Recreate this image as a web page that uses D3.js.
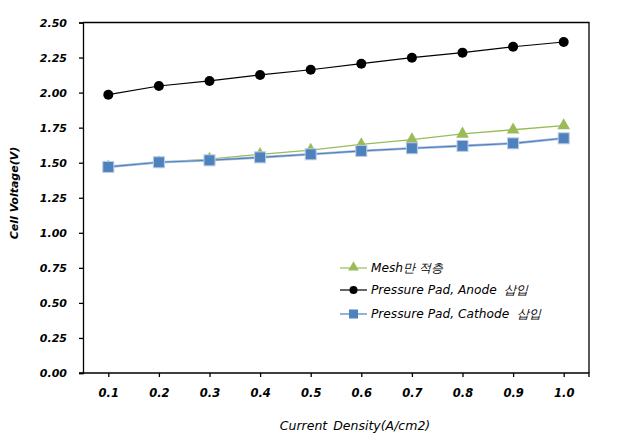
<!DOCTYPE html>
<html><head><meta charset="utf-8">
<script src="https://cdn.jsdelivr.net/npm/d3@7/dist/d3.min.js"></script>
<style>
html,body{margin:0;padding:0;background:#fff;}
svg{display:block;}
</style></head>
<body>
<svg id="chart" width="618" height="440"></svg>
<script>
const categories = ["0.1","0.2","0.3","0.4","0.5","0.6","0.7","0.8","0.9","1.0"];
const meshValues = [1.47, 1.50, 1.525, 1.56, 1.59, 1.63, 1.665, 1.705, 1.735, 1.765];
const anodeValues = [1.985, 2.047, 2.083, 2.126, 2.163, 2.206, 2.249, 2.285, 2.327, 2.361];
const cathodeValues = [1.47, 1.503, 1.517, 1.538, 1.56, 1.584, 1.603, 1.62, 1.638, 1.674];
const yTicks = [0, 0.25, 0.5, 0.75, 1.0, 1.25, 1.5, 1.75, 2.0, 2.25, 2.5];
const seriesNames = ["Mesh만 적층", "Pressure Pad, Anode  삽입", "Pressure Pad, Cathode  삽입"];

const svg = d3.select("#chart");
const L = 83, R = 589, T = 22.5, B = 373;
const x = d3.scalePoint().domain(categories).range([L, R]).padding(0.5);
const y = d3.scaleLinear().domain([0, 2.5]).range([B, T]);

const tickFont = "'DejaVu Sans', Verdana, sans-serif";

// plot frame top/right
svg.append("path").attr("d", `M${L},${T}H${R}V${B}`).attr("fill","none").attr("stroke","#000").attr("stroke-width",1.3);

// y axis
const yAxis = svg.append("g").attr("transform", `translate(${L},0)`)
  .call(d3.axisLeft(y).tickValues(yTicks).tickFormat(d3.format(".2f")).tickSize(4).tickPadding(12));
yAxis.select(".domain").attr("stroke","#000").attr("stroke-width",1.3);
yAxis.selectAll(".tick line").attr("stroke","#000").attr("stroke-width",1.3);
yAxis.selectAll(".tick text").attr("font-family", tickFont).attr("font-size", 11)
  .attr("font-weight","bold").attr("font-style","italic").attr("fill","#000");

// x axis
const xAxis = svg.append("g").attr("transform", `translate(0,${B})`)
  .call(d3.axisBottom(x).tickSize(4).tickPadding(12));
xAxis.select(".domain").attr("d", `M${L-4},0H${R}V4`).attr("stroke","#000").attr("stroke-width",1.3);
xAxis.selectAll(".tick line").attr("stroke","#000").attr("stroke-width",1.3);
xAxis.selectAll(".tick text").attr("font-family", tickFont).attr("font-size", 11.5)
  .attr("font-weight","bold").attr("font-style","italic").attr("fill","#000");

// axis titles
svg.append("text").attr("transform","translate(18,193) rotate(-90)")
  .attr("text-anchor","middle").attr("font-family", tickFont).attr("font-size", 11)
  .attr("font-weight","bold").attr("font-style","italic").text("Cell Voltage(V)");
svg.append("text").attr("x", 355).attr("y", 430)
  .attr("text-anchor","middle").attr("font-family", tickFont).attr("font-size", 12.5)
  .attr("font-style","italic").attr("word-spacing", 2).text("Current Density(A/cm2)");

const line = d3.line().x((d,i)=>x(categories[i])).y(d=>y(d));

// Mesh (green triangles)
svg.append("path").datum(meshValues).attr("d", line).attr("fill","none").attr("stroke","#9BBB59").attr("stroke-width",1.3);
const tri = d3.symbol().type(d3.symbolTriangle).size(70);
svg.append("g").selectAll("path").data(meshValues).join("path")
  .attr("d", tri).attr("transform",(d,i)=>`translate(${x(categories[i])},${y(d)})`)
  .attr("fill","#9BBB59");

// Anode (black circles)
svg.append("path").datum(anodeValues).attr("d", line).attr("fill","none").attr("stroke","#000").attr("stroke-width",1.2);
svg.append("g").selectAll("circle").data(anodeValues).join("circle")
  .attr("cx",(d,i)=>x(categories[i])).attr("cy", d=>y(d)).attr("r",5).attr("fill","#000");

// Cathode (blue squares)
svg.append("path").datum(cathodeValues).attr("d", line).attr("fill","none").attr("stroke","#A7BFDE").attr("stroke-width",2.6);
svg.append("path").datum(cathodeValues).attr("d", line).attr("fill","none").attr("stroke","#4F81BD").attr("stroke-width",1.1);
svg.append("g").selectAll("rect").data(cathodeValues).join("rect")
  .attr("x",(d,i)=>x(categories[i])-5.5).attr("y", d=>y(d)-5.5).attr("width",11).attr("height",11)
  .attr("fill","#4F81BD").attr("stroke","#B9CDE5").attr("stroke-width",1);

// legend
const lg = svg.append("g");
const legY = [268, 290, 314];
const legCol = ["#9BBB59", "#000", "#4F81BD"];
seriesNames.forEach((name, i) => {
  lg.append("line").attr("x1",340).attr("x2",367).attr("y1",legY[i]).attr("y2",legY[i])
    .attr("stroke", legCol[i]).attr("stroke-width",1.2);
  if (i === 0) lg.append("path").attr("d", d3.symbol().type(d3.symbolTriangle).size(50)).attr("transform",`translate(353.5,${legY[i]-0.5})`).attr("fill",legCol[i]);
  if (i === 1) lg.append("circle").attr("cx",353.5).attr("cy",legY[i]).attr("r",4).attr("fill",legCol[i]);
  if (i === 2) lg.append("rect").attr("x",349).attr("y",legY[i]-4.5).attr("width",9).attr("height",9).attr("fill",legCol[i]);
  lg.append("text").attr("x",371).attr("y",legY[i]).attr("dy","0.35em")
    .style("white-space","pre")
    .attr("font-family", tickFont).attr("font-size",12.2).attr("font-style","italic").text(name);
});
</script>
</body></html>
